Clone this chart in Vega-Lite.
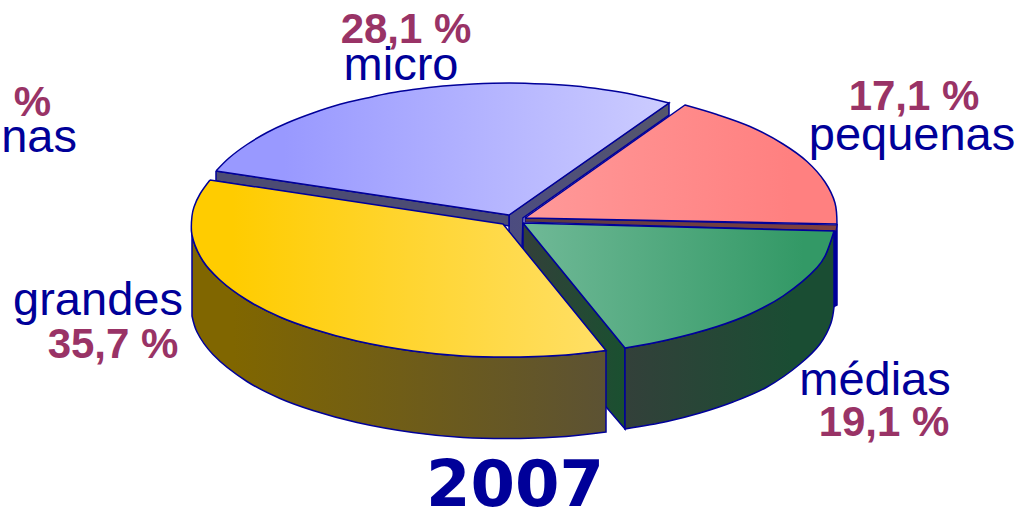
{"$schema":"https://vega.github.io/schema/vega-lite/v6.json","width":1020,"height":507,"autosize":{"type":"none"},"padding":0,"background":"white","config":{"view":{"stroke":null}},
"datasets":{
"outline":[
{"part":"microWallR","i":1,"x":50.9,"y":21.5},{"part":"microWallR","i":2,"x":66.9,"y":10.3},{"part":"microWallR","i":3,"x":66.9,"y":11.5},{"part":"microWallR","i":4,"x":52.3,"y":21.8},{"part":"microWallR","i":5,"x":52.2,"y":25},{"part":"microWallR","i":6,"x":50.9,"y":23.2},{"part":"microWallR","i":7,"x":50.9,"y":21.5},
{"part":"microWallF","i":1,"x":21.6,"y":17.1},{"part":"microWallF","i":2,"x":50.9,"y":21.5},{"part":"microWallF","i":3,"x":50.9,"y":22.6},{"part":"microWallF","i":4,"x":21.6,"y":18.1},{"part":"microWallF","i":5,"x":21.6,"y":17.1},
{"part":"micro","i":1,"x":21.6,"y":17.1},{"part":"micro","i":2,"x":22.9,"y":15.8},{"part":"micro","i":3,"x":24.7,"y":14.45},{"part":"micro","i":4,"x":26.7,"y":13.25},{"part":"micro","i":5,"x":28.7,"y":12.3},{"part":"micro","i":6,"x":31.3,"y":11.3},{"part":"micro","i":7,"x":34,"y":10.43},{"part":"micro","i":8,"x":36.7,"y":9.8},{"part":"micro","i":9,"x":39,"y":9.31},{"part":"micro","i":10,"x":41.3,"y":8.95},{"part":"micro","i":11,"x":44.3,"y":8.6},{"part":"micro","i":12,"x":47.3,"y":8.4},{"part":"micro","i":13,"x":51,"y":8.3},{"part":"micro","i":14,"x":54.5,"y":8.41},{"part":"micro","i":15,"x":57.5,"y":8.6},{"part":"micro","i":16,"x":60.3,"y":8.95},{"part":"micro","i":17,"x":63.3,"y":9.45},{"part":"micro","i":18,"x":66.9,"y":10.3},{"part":"micro","i":18.5,"x":66.9,"y":10.3},{"part":"micro","i":19,"x":50.9,"y":21.5},{"part":"micro","i":19.5,"x":50.9,"y":21.5},{"part":"micro","i":20,"x":21.6,"y":17.1},
{"part":"pequenasWallR","i":1,"x":83.7,"y":22.4},{"part":"pequenasWallR","i":2,"x":83.7,"y":30.5},{"part":"pequenasWallR","i":3,"x":83.3,"y":30.7},{"part":"pequenasWallR","i":4,"x":83.3,"y":23},{"part":"pequenasWallR","i":5,"x":83.7,"y":22.4},
{"part":"pequenasWallF","i":1,"x":52.5,"y":21.8},{"part":"pequenasWallF","i":2,"x":83.7,"y":22.5},{"part":"pequenasWallF","i":3,"x":83.6,"y":23.1},{"part":"pequenasWallF","i":4,"x":52.5,"y":22.2},{"part":"pequenasWallF","i":5,"x":52.5,"y":21.8},
{"part":"pequenas","i":1,"x":52.5,"y":21.8},{"part":"pequenas","i":1.5,"x":52.5,"y":21.8},{"part":"pequenas","i":2,"x":68.5,"y":10.5},{"part":"pequenas","i":2.5,"x":68.5,"y":10.5},{"part":"pequenas","i":3,"x":71.7,"y":11.45},{"part":"pequenas","i":4,"x":75,"y":12.65},{"part":"pequenas","i":5,"x":78.3,"y":14.4},{"part":"pequenas","i":6,"x":80.7,"y":16.15},{"part":"pequenas","i":7,"x":82.5,"y":18.2},{"part":"pequenas","i":8,"x":83.5,"y":20.3},{"part":"pequenas","i":9,"x":83.7,"y":22.4},{"part":"pequenas","i":9.5,"x":83.7,"y":22.4},{"part":"pequenas","i":10,"x":52.5,"y":21.8},
{"part":"mediasWallI","i":1,"x":52.3,"y":22.3},{"part":"mediasWallI","i":2,"x":62.5,"y":34.8},{"part":"mediasWallI","i":3,"x":62.5,"y":42.9},{"part":"mediasWallI","i":4,"x":52.3,"y":31},{"part":"mediasWallI","i":5,"x":52.3,"y":22.3},
{"part":"mediasWallO","i":1,"x":83.4,"y":23.1},{"part":"mediasWallO","i":2,"x":82.5,"y":25.6},{"part":"mediasWallO","i":3,"x":81.7,"y":26.75},{"part":"mediasWallO","i":4,"x":78.3,"y":29.6},{"part":"mediasWallO","i":5,"x":75,"y":31.4},{"part":"mediasWallO","i":6,"x":71.7,"y":32.65},{"part":"mediasWallO","i":7,"x":66.7,"y":34},{"part":"mediasWallO","i":8,"x":62.5,"y":34.8},{"part":"mediasWallO","i":8.5,"x":62.5,"y":34.8},{"part":"mediasWallO","i":9,"x":62.5,"y":42.9},{"part":"mediasWallO","i":9.5,"x":62.5,"y":42.9},{"part":"mediasWallO","i":10,"x":66.7,"y":42.15},{"part":"mediasWallO","i":11,"x":70,"y":41.3},{"part":"mediasWallO","i":12,"x":73.3,"y":40.2},{"part":"mediasWallO","i":13,"x":76.7,"y":38.7},{"part":"mediasWallO","i":14,"x":80,"y":36.4},{"part":"mediasWallO","i":15,"x":82,"y":34.4},{"part":"mediasWallO","i":16,"x":83.1,"y":32.3},{"part":"mediasWallO","i":17,"x":83.4,"y":30.7},{"part":"mediasWallO","i":17.5,"x":83.4,"y":30.7},{"part":"mediasWallO","i":18,"x":83.4,"y":23.1},
{"part":"medias","i":1,"x":52.3,"y":22.3},{"part":"medias","i":1.5,"x":52.3,"y":22.3},{"part":"medias","i":2,"x":83.4,"y":23.1},{"part":"medias","i":2.5,"x":83.4,"y":23.1},{"part":"medias","i":3,"x":82.5,"y":25.6},{"part":"medias","i":4,"x":81.7,"y":26.75},{"part":"medias","i":5,"x":78.3,"y":29.6},{"part":"medias","i":6,"x":75,"y":31.4},{"part":"medias","i":7,"x":71.7,"y":32.65},{"part":"medias","i":8,"x":66.7,"y":34},{"part":"medias","i":9,"x":62.5,"y":34.8},{"part":"medias","i":9.5,"x":62.5,"y":34.8},{"part":"medias","i":10,"x":52.3,"y":22.3},
{"part":"grandesWall","i":1,"x":19.2,"y":22.5},{"part":"grandesWall","i":2,"x":19.2,"y":23.5},{"part":"grandesWall","i":3,"x":20.3,"y":26.1},{"part":"grandesWall","i":4,"x":22,"y":28},{"part":"grandesWall","i":5,"x":24.7,"y":30},{"part":"grandesWall","i":6,"x":28,"y":31.7},{"part":"grandesWall","i":7,"x":31.3,"y":32.9},{"part":"grandesWall","i":8,"x":35.7,"y":34.1},{"part":"grandesWall","i":9,"x":41.3,"y":35.1},{"part":"grandesWall","i":10,"x":46.3,"y":35.6},{"part":"grandesWall","i":11,"x":52,"y":35.7},{"part":"grandesWall","i":12,"x":56.6,"y":35.5},{"part":"grandesWall","i":13,"x":60.6,"y":35.05},{"part":"grandesWall","i":13.5,"x":60.6,"y":35.05},{"part":"grandesWall","i":14,"x":60.6,"y":43.2},{"part":"grandesWall","i":14.5,"x":60.6,"y":43.2},{"part":"grandesWall","i":15,"x":56.6,"y":43.65},{"part":"grandesWall","i":16,"x":52,"y":43.85},{"part":"grandesWall","i":17,"x":46.3,"y":43.75},{"part":"grandesWall","i":18,"x":41.3,"y":43.25},{"part":"grandesWall","i":19,"x":35.7,"y":42.25},{"part":"grandesWall","i":20,"x":31.3,"y":41.05},{"part":"grandesWall","i":21,"x":28,"y":39.85},{"part":"grandesWall","i":22,"x":24.7,"y":38.15},{"part":"grandesWall","i":23,"x":21.3,"y":35.45},{"part":"grandesWall","i":24,"x":19.7,"y":33.2},{"part":"grandesWall","i":25,"x":19.2,"y":31.6},{"part":"grandesWall","i":25.5,"x":19.2,"y":31.6},{"part":"grandesWall","i":26,"x":19.2,"y":22.5},
{"part":"grandes","i":1,"x":21,"y":18},{"part":"grandes","i":2,"x":20,"y":19.4},{"part":"grandes","i":3,"x":19.4,"y":20.7},{"part":"grandes","i":4,"x":19.2,"y":21.6},{"part":"grandes","i":5,"x":19.2,"y":23.5},{"part":"grandes","i":6,"x":20.3,"y":26.1},{"part":"grandes","i":7,"x":22,"y":28},{"part":"grandes","i":8,"x":24.7,"y":30},{"part":"grandes","i":9,"x":28,"y":31.7},{"part":"grandes","i":10,"x":31.3,"y":32.9},{"part":"grandes","i":11,"x":35.7,"y":34.1},{"part":"grandes","i":12,"x":41.3,"y":35.1},{"part":"grandes","i":13,"x":46.3,"y":35.6},{"part":"grandes","i":14,"x":52,"y":35.7},{"part":"grandes","i":15,"x":56.6,"y":35.5},{"part":"grandes","i":16,"x":60.6,"y":35.05},{"part":"grandes","i":16.5,"x":60.6,"y":35.05},{"part":"grandes","i":17,"x":50.3,"y":22.4},{"part":"grandes","i":17.5,"x":50.3,"y":22.4},{"part":"grandes","i":18,"x":21,"y":18}
],
"shares":[
{"segment":"micro","share":28.1,"label":"28,1 %","cx":40.6,"cy":4.3},
{"segment":"pequenas","share":17.1,"label":"17,1 %","cx":91.4,"cy":11},
{"segment":"medias","share":19.1,"label":"19,1 %","cx":88.4,"cy":43.6},
{"segment":"grandes","share":35.7,"label":"35,7 %","cx":11.3,"cy":35.8}
],
"names":[
{"label":"micro","cx":40.1,"cy":8},
{"label":"pequenas","cx":91.2,"cy":15},
{"label":"médias","cx":87.5,"cy":39.5},
{"label":"grandes","cx":9.8,"cy":31.5}
]},
"encoding":{
"x":{"field":"x","type":"quantitative","axis":null,"scale":{"domain":[0,102],"nice":false,"zero":false}},
"y":{"field":"y","type":"quantitative","axis":null,"scale":{"domain":[50.7,0],"nice":false,"zero":false}},
"order":{"field":"i","type":"quantitative"}},
"layer":[
{"data":{"name":"outline"},"transform":[{"filter":"datum.part==='microWallR'"}],"mark":{"type":"line","stroke":"#000099","strokeWidth":1.5,"fill":{"gradient":"linear","x1":0,"x2":1,"y1":0,"y2":0,"stops":[{"offset":0,"color":"#4c4c80"},{"offset":1,"color":"#55566b"}]}}},
{"data":{"name":"outline"},"transform":[{"filter":"datum.part==='microWallF'"}],"mark":{"type":"line","stroke":"#000099","strokeWidth":1.5,"fill":"#4c4c73"}},
{"data":{"name":"outline"},"transform":[{"filter":"datum.part==='micro'"}],"mark":{"type":"line","interpolate":"catmull-rom","stroke":"#000099","strokeWidth":1.5,"fill":{"gradient":"linear","x1":0,"x2":1,"y1":0,"y2":0,"stops":[{"offset":0,"color":"#9999ff"},{"offset":0.15,"color":"#9999ff"},{"offset":1,"color":"#ccccff"}]}}},
{"data":{"name":"outline"},"transform":[{"filter":"datum.part==='pequenasWallR'"}],"mark":{"type":"line","stroke":"#000099","strokeWidth":1.5,"fill":"#000099"}},
{"data":{"name":"outline"},"transform":[{"filter":"datum.part==='pequenasWallF'"}],"mark":{"type":"line","stroke":"#000099","strokeWidth":1.2,"fill":{"gradient":"linear","x1":0,"x2":1,"y1":0,"y2":0,"stops":[{"offset":0,"color":"#5a3a44"},{"offset":1,"color":"#804040"}]}}},
{"data":{"name":"outline"},"transform":[{"filter":"datum.part==='pequenas'"}],"mark":{"type":"line","interpolate":"catmull-rom","stroke":"#000099","strokeWidth":1.5,"fill":{"gradient":"linear","x1":0,"x2":1,"y1":0,"y2":0,"stops":[{"offset":0,"color":"#ff9999"},{"offset":0.85,"color":"#ff8080"},{"offset":1,"color":"#ff8080"}]}}},
{"data":{"name":"outline"},"transform":[{"filter":"datum.part==='mediasWallI'"}],"mark":{"type":"line","stroke":"#000099","strokeWidth":1.5,"fill":{"gradient":"linear","x1":0,"x2":1,"y1":0,"y2":0,"stops":[{"offset":0,"color":"#33403a"},{"offset":1,"color":"#1a5030"}]}}},
{"data":{"name":"outline"},"transform":[{"filter":"datum.part==='mediasWallO'"}],"mark":{"type":"line","interpolate":"catmull-rom","stroke":"#000099","strokeWidth":1.5,"fill":{"gradient":"linear","x1":0,"x2":1,"y1":0,"y2":0,"stops":[{"offset":0,"color":"#33403a"},{"offset":0.8,"color":"#1a4d33"},{"offset":1,"color":"#1a4d33"}]}}},
{"data":{"name":"outline"},"transform":[{"filter":"datum.part==='medias'"}],"mark":{"type":"line","interpolate":"catmull-rom","stroke":"#000099","strokeWidth":1.5,"fill":{"gradient":"linear","x1":0,"x2":1,"y1":0,"y2":0,"stops":[{"offset":0,"color":"#70b997"},{"offset":0.9,"color":"#339966"},{"offset":1,"color":"#339966"}]}}},
{"data":{"name":"outline"},"transform":[{"filter":"datum.part==='grandesWall'"}],"mark":{"type":"line","interpolate":"catmull-rom","stroke":"#000099","strokeWidth":1.5,"fill":{"gradient":"linear","x1":0,"x2":1,"y1":0,"y2":0,"stops":[{"offset":0,"color":"#806600"},{"offset":0.1,"color":"#806600"},{"offset":1,"color":"#5c5233"}]}}},
{"data":{"name":"outline"},"transform":[{"filter":"datum.part==='grandes'"}],"mark":{"type":"line","interpolate":"catmull-rom","stroke":"#000099","strokeWidth":1.5,"fill":{"gradient":"linear","x1":0,"x2":1,"y1":0,"y2":0,"stops":[{"offset":0,"color":"#ffcc00"},{"offset":0.1,"color":"#ffcc00"},{"offset":1,"color":"#ffdf66"}]}}},
{"data":{"name":"shares"},"mark":{"type":"text","font":"Liberation Sans","fontWeight":"bold","fontSize":42,"fill":"#993366","align":"center","baseline":"alphabetic"},"encoding":{"x":{"field":"cx","type":"quantitative"},"y":{"field":"cy","type":"quantitative"},"text":{"field":"label"}}},
{"data":{"name":"names"},"mark":{"type":"text","font":"Liberation Sans","fontSize":47,"fill":"#000099","align":"center","baseline":"alphabetic"},"encoding":{"x":{"field":"cx","type":"quantitative"},"y":{"field":"cy","type":"quantitative"},"text":{"field":"label"}}},
{"data":{"values":[{"label":"%","cx":5.1,"cy":11.6}]},"mark":{"type":"text","font":"Liberation Sans","fontWeight":"bold","fontSize":42,"fill":"#993366","align":"right","baseline":"alphabetic"},"encoding":{"x":{"field":"cx","type":"quantitative"},"y":{"field":"cy","type":"quantitative"},"text":{"field":"label"}}},
{"data":{"values":[{"label":"enas","cx":7.7,"cy":15.2}]},"mark":{"type":"text","font":"Liberation Sans","fontSize":47,"fill":"#000099","align":"right","baseline":"alphabetic"},"encoding":{"x":{"field":"cx","type":"quantitative"},"y":{"field":"cy","type":"quantitative"},"text":{"field":"label"}}},
{"data":{"values":[{"label":"2007","cx":51.5,"cy":50.6}]},"mark":{"type":"text","font":"DejaVu Sans","fontWeight":"bold","fontSize":64,"fill":"#000099","align":"center","baseline":"alphabetic"},"encoding":{"x":{"field":"cx","type":"quantitative"},"y":{"field":"cy","type":"quantitative"},"text":{"field":"label"}}}
]}
